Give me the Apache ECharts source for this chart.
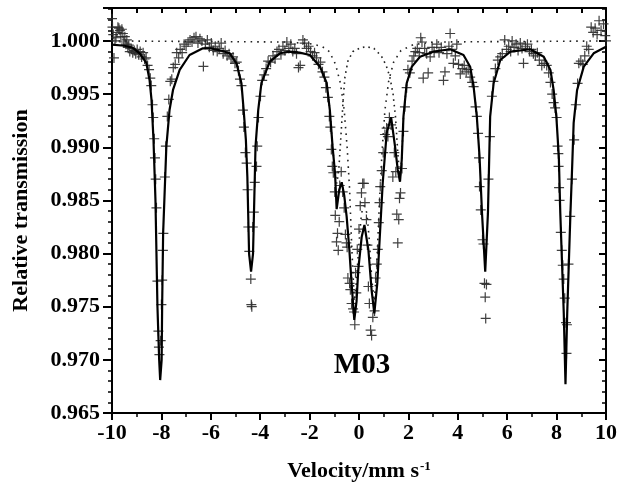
<!DOCTYPE html>
<html>
<head>
<meta charset="utf-8">
<script src="https://cdn.jsdelivr.net/npm/echarts@6/dist/echarts.min.js"></script>
<style>
  html, body { margin: 0; padding: 0; background: #fff; }
  #chart { width: 625px; height: 487px; }
</style>
</head>
<body>
<div id="chart"></div>
<script>
// measured points (velocity mm/s, relative transmission)
var dataVel = [
  -10.00, -9.98, -9.95, -9.92, -9.88, -9.84, -9.80, -9.76, -9.72, -9.68, -9.64, -9.60, -9.56, -9.52, -9.48, -9.44,
  -9.40, -9.36, -9.32, -9.28, -9.22, -9.16, -9.10, -9.04, -8.98, -8.92, -8.86, -8.80, -8.74, -8.68, -8.62, -8.56,
  -8.50, -8.45, -8.41, -8.36, -8.33, -8.29, -8.26, -8.23, -8.20, -8.16, -8.12, -8.10, -8.08, -8.03, -8.00, -7.97,
  -7.94, -7.92, -7.86, -7.82, -7.76, -7.70, -7.64, -7.58, -7.52, -7.44, -7.38, -7.30, -7.24, -7.16, -7.08, -7.00,
  -6.92, -6.84, -6.76, -6.68, -6.60, -6.52, -6.44, -6.36, -6.30, -6.22, -6.14, -6.06, -5.98, -5.90, -5.82, -5.74,
  -5.66, -5.58, -5.50, -5.42, -5.34, -5.26, -5.18, -5.10, -5.02, -4.95, -4.88, -4.82, -4.76, -4.70, -4.66, -4.60,
  -4.55, -4.51, -4.48, -4.44, -4.38, -4.36, -4.34, -4.30, -4.26, -4.22, -4.15, -4.12, -4.07, -3.99, -3.92, -3.84,
  -3.76, -3.68, -3.58, -3.48, -3.40, -3.32, -3.24, -3.16, -3.08, -3.00, -2.92, -2.84, -2.76, -2.68, -2.60, -2.53,
  -2.45, -2.38, -2.27, -2.20, -2.12, -2.04, -1.96, -1.88, -1.80, -1.72, -1.64, -1.56, -1.48, -1.40, -1.34, -1.26,
  -1.20, -1.16, -1.12, -1.08, -1.04, -0.98, -0.96, -0.91, -0.87, -0.84, -0.80, -0.78, -0.72, -0.66, -0.60, -0.55,
  -0.51, -0.48, -0.45, -0.38, -0.35, -0.30, -0.24, -0.20, -0.17, -0.14, -0.11, -0.07, -0.02, 0.00, 0.05, 0.10,
  0.15, 0.20, 0.24, 0.30, 0.34, 0.38, 0.42, 0.47, 0.51, 0.56, 0.63, 0.67, 0.72, 0.76, 0.80, 0.83,
  0.86, 0.92, 0.98, 1.05, 1.12, 1.17, 1.23, 1.30, 1.37, 1.43, 1.49, 1.53, 1.57, 1.61, 1.64, 1.68,
  1.74, 1.80, 1.86, 1.93, 1.98, 2.06, 2.15, 2.22, 2.28, 2.36, 2.44, 2.50, 2.55, 2.60, 2.66, 2.74,
  2.80, 2.88, 2.96, 3.04, 3.15, 3.24, 3.33, 3.42, 3.48, 3.56, 3.64, 3.69, 3.76, 3.82, 3.90, 3.96,
  4.03, 4.10, 4.18, 4.26, 4.34, 4.42, 4.50, 4.58, 4.64, 4.72, 4.77, 4.82, 4.86, 4.88, 4.93, 5.00,
  5.04, 5.08, 5.11, 5.13, 5.16, 5.24, 5.30, 5.38, 5.44, 5.52, 5.62, 5.72, 5.80, 5.90, 5.98, 6.06,
  6.14, 6.20, 6.28, 6.36, 6.44, 6.53, 6.60, 6.66, 6.74, 6.82, 6.90, 6.98, 7.06, 7.14, 7.22, 7.30,
  7.40, 7.50, 7.60, 7.68, 7.75, 7.82, 7.88, 7.94, 8.00, 8.04, 8.07, 8.08, 8.10, 8.12, 8.17, 8.21,
  8.25, 8.29, 8.33, 8.38, 8.40, 8.42, 8.48, 8.55, 8.62, 8.71, 8.78, 8.85, 8.90, 8.98, 9.06, 9.14,
  9.22, 9.30, 9.40, 9.48, 9.56, 9.64, 9.72, 9.80, 9.90, 9.97, 10.00
];
var dataTrans = [
  1.0021, 1.0013, 1.0006, 0.9984, 1.0000, 1.0003, 1.0008, 1.0013, 1.0012, 1.0010, 1.0004, 1.0011, 1.0007, 0.9999, 1.0004, 0.9997,
  1.0001, 0.9994, 0.9996, 0.9990, 0.9993, 0.9989, 0.9991, 0.9988, 0.9992, 0.9987, 0.9990, 0.9985, 0.9989, 0.9983, 0.9984, 0.9977,
  0.9973, 0.9965, 0.9958, 0.9940, 0.9928, 0.9908, 0.9890, 0.9870, 0.9843, 0.9774, 0.9727, 0.9712, 0.9705, 0.9718, 0.9752, 0.9775,
  0.9803, 0.9819, 0.9872, 0.9901, 0.9929, 0.9945, 0.9962, 0.9964, 0.9975, 0.9978, 0.9989, 0.9984, 0.9992, 0.9989, 0.9997, 0.9995,
  0.9999, 1.0001, 0.9999, 1.0003, 1.0004, 0.9998, 1.0002, 1.0000, 0.9976, 0.9997, 1.0001, 0.9994, 0.9998, 0.9991, 0.9995, 0.9990,
  0.9993, 0.9998, 0.9988, 0.9991, 0.9986, 0.9988, 0.9983, 0.9985, 0.9979, 0.9980, 0.9972, 0.9964, 0.9958, 0.9935, 0.9919, 0.9895,
  0.9885, 0.9860, 0.9825, 0.9802, 0.9776, 0.9752, 0.9750, 0.9825, 0.9839, 0.9867, 0.9882, 0.9901, 0.9928, 0.9948, 0.9963, 0.9968,
  0.9974, 0.9981, 0.9980, 0.9986, 0.9983, 0.9990, 0.9992, 0.9987, 0.9995, 0.9991, 0.9999, 0.9993, 0.9997, 0.9990, 0.9993, 0.9988,
  0.9975, 0.9977, 1.0001, 0.9998, 0.9993, 0.9995, 0.9990, 0.9986, 0.9989, 0.9984, 0.9978, 0.9980, 0.9971, 0.9966, 0.9956, 0.9947,
  0.9929, 0.9919, 0.9898, 0.9882, 0.9876, 0.9858, 0.9836, 0.9811, 0.9819, 0.9803, 0.9830, 0.9864, 0.9877, 0.9858, 0.9843, 0.9818,
  0.9810, 0.9806, 0.9777, 0.9772, 0.9766, 0.9753, 0.9748, 0.9745, 0.9733, 0.9782, 0.9763, 0.9804, 0.9788, 0.9823, 0.9845, 0.9857,
  0.9866, 0.9866, 0.9848, 0.9832, 0.9808, 0.9769, 0.9753, 0.9728, 0.9723, 0.9740, 0.9746, 0.9777, 0.9790, 0.9804, 0.9829, 0.9848,
  0.9863, 0.9878, 0.9895, 0.9912, 0.9918, 0.9910, 0.9928, 0.9921, 0.9872, 0.9895, 0.9877, 0.9837, 0.9810, 0.9832, 0.9852, 0.9857,
  0.9880, 0.9915, 0.9938, 0.9956, 0.9973, 0.9970, 0.9981, 0.9986, 0.9990, 0.9993, 0.9989, 1.0003, 0.9999, 0.9965, 0.9993, 0.9988,
  0.9970, 0.9985, 0.9994, 0.9990, 0.9997, 0.9989, 0.9994, 0.9963, 0.9971, 0.9988, 0.9995, 1.0007, 0.9992, 0.9979, 0.9986, 0.9997,
  0.9978, 0.9969, 0.9974, 0.9977, 0.9971, 0.9973, 0.9966, 0.9961, 0.9957, 0.9938, 0.9929, 0.9913, 0.9890, 0.9863, 0.9841, 0.9813,
  0.9809, 0.9772, 0.9759, 0.9739, 0.9771, 0.9870, 0.9910, 0.9948, 0.9962, 0.9974, 0.9982, 0.9985, 0.9988, 1.0001, 0.9992, 0.9995,
  0.9990, 1.0000, 0.9994, 0.9997, 0.9991, 0.9998, 0.9993, 0.9979, 0.9995, 0.9997, 0.9990, 0.9992, 0.9988, 0.9986, 0.9989, 0.9982,
  0.9977, 0.9979, 0.9977, 0.9970, 0.9961, 0.9950, 0.9942, 0.9937, 0.9928, 0.9901, 0.9894, 0.9882, 0.9862, 0.9850, 0.9820, 0.9803,
  0.9789, 0.9776, 0.9758, 0.9735, 0.9706, 0.9733, 0.9790, 0.9835, 0.9870, 0.9907, 0.9940, 0.9960, 0.9979, 0.9981, 0.9978, 0.9986,
  0.9995, 0.9992, 1.0013, 1.0008, 1.0012, 1.0006, 1.0019, 1.0010, 1.0016, 1.0005, 1.0000
];

// total fit (solid line)
var fitVel = [
  -10, -9.5, -9.17, -8.88, -8.61, -8.48, -8.40, -8.32, -8.24, -8.16, -8.09, -8.05, -7.99, -7.97, -7.93, -7.80,
  -7.67, -7.53, -7.26, -6.86, -6.32, -6.05, -5.6, -5.23, -4.96, -4.76, -4.67, -4.58, -4.52, -4.45, -4.37, -4.29,
  -4.19, -4.08, -3.95, -3.61, -3.2, -2.8, -2.4, -1.99, -1.58, -1.31, -1.18, -1.07, -0.97, -0.905, -0.80, -0.70,
  -0.60, -0.50, -0.39, -0.30, -0.19, -0.10, -0.03, 0.11, 0.22, 0.38, 0.51, 0.62, 0.74, 0.85, 0.96, 1.12,
  1.30, 1.46, 1.57, 1.66, 1.73, 1.80, 1.93, 2.14, 2.47, 3.01, 3.69, 4.23, 4.50, 4.64, 4.77, 4.88,
  4.98, 5.11, 5.22, 5.27, 5.31, 5.45, 5.72, 6.13, 6.94, 7.48, 7.75, 7.88, 7.99, 8.09, 8.15, 8.29,
  8.36, 8.43, 8.56, 8.63, 8.69, 8.83, 9.10, 9.5, 10
];
var fitTrans = [
  0.99965, 0.99955, 0.99937, 0.99884, 0.99793, 0.99633, 0.99445, 0.99069, 0.9850, 0.9750, 0.9700, 0.9681, 0.9700, 0.9750, 0.9819, 0.99006,
  0.99351, 0.99539, 0.99727, 0.99868, 0.99931, 0.99931, 0.9991, 0.99884, 0.9979, 0.99602, 0.99351, 0.99069, 0.98723, 0.9800, 0.9783, 0.9800,
  0.99006, 0.9935, 0.99605, 0.99806, 0.99884, 0.99899, 0.9989, 0.99868, 0.99758, 0.99605, 0.9935, 0.99006, 0.98755, 0.98417, 0.9860, 0.98671,
  0.9855, 0.98347, 0.98034, 0.9772, 0.97375, 0.9755, 0.97846, 0.98159, 0.98269, 0.98034, 0.97657, 0.97438, 0.9772, 0.98193, 0.98664, 0.99133,
  0.99282, 0.99006, 0.98787, 0.98676, 0.9888, 0.99288, 0.99602, 0.99758, 0.99852, 0.99899, 0.99922, 0.99868, 0.99758, 0.99571, 0.99288, 0.98912,
  0.98382, 0.9783, 0.9838, 0.9888, 0.99288, 0.99602, 0.99821, 0.99899, 0.99922, 0.99852, 0.99727, 0.99539, 0.99288, 0.98912, 0.98378, 0.97441,
  0.9677, 0.97441, 0.98378, 0.98818, 0.99226, 0.99539, 0.99758, 0.99884, 0.99946
];

// sextet subspectrum, where it leaves the total fit
var sextetVel = [
  -1.58, -1.31, -1.18, -1.07, -0.97, -0.90, -0.82, -0.72, -0.64, -0.57, -0.45, -0.25, 0.05, 0.30, 0.60, 0.90,
  1.10, 1.25, 1.38, 1.48, 1.57, 1.66, 1.73, 1.80, 1.93, 2.14
];
var sextetTrans = [
  0.99758, 0.99605, 0.9935, 0.99006, 0.98755, 0.9866, 0.9878, 0.9915, 0.9945, 0.9966, 0.9981, 0.9990, 0.99935, 0.99946, 0.9993, 0.9986,
  0.9977, 0.9966, 0.9950, 0.9928, 0.9895, 0.9870, 0.9889, 0.99288, 0.99602, 0.99758
];

// doublet subspectrum
var doubletVel = [
  -10, -3, -2, -1.5, -1.2, -0.95, -0.75, -0.6, -0.48, -0.38, -0.30, -0.19, -0.10, 0.0, 0.1, 0.21,
  0.32, 0.42, 0.52, 0.62, 0.72, 0.82, 0.93, 1.05, 1.2, 1.4, 1.7, 2.2, 3, 10
];
var doubletTrans = [
  1.0, 0.9999, 0.99975, 0.9995, 0.9990, 0.9978, 0.9960, 0.9935, 0.9900, 0.9860, 0.9810, 0.9755, 0.9775, 0.9810, 0.9838, 0.9845,
  0.9838, 0.9812, 0.9775, 0.9755, 0.9790, 0.9845, 0.9895, 0.9935, 0.9962, 0.9980, 0.9991, 0.99965, 0.9999, 1.0
];

function pairs(xs, ys) {
  return xs.map(function (x, i) { return [x, ys[i]]; });
}

var serif = '"Liberation Serif", "Times New Roman", serif';
var plusSymbol = 'path://M-0.6,-5 L0.6,-5 L0.6,-0.6 L5,-0.6 L5,0.6 L0.6,0.6 L0.6,5 L-0.6,5 L-0.6,0.6 L-5,0.6 L-5,-0.6 L-0.6,-0.6 Z';

var myChart = echarts.init(document.getElementById('chart'));
var option = {
  animation: false,
  backgroundColor: '#fff',
  grid: { left: 112, right: 19, top: 8, bottom: 74 },
  xAxis: [
    {
      type: 'value',
      position: 'bottom',
      min: -10,
      max: 10,
      interval: 2,
      name: '{a|Velocity/mm s}{b|-1}',
      nameLocation: 'middle',
      nameGap: 47,
      nameTextStyle: {
        rich: {
          a: { fontFamily: serif, fontWeight: 'bold', fontSize: 22, color: '#000' },
          b: { fontFamily: serif, fontWeight: 'bold', fontSize: 13, color: '#000', padding: [0, 0, 9, 1] }
        }
      },
      axisLine: { onZero: false, lineStyle: { color: '#000', width: 2 } },
      axisTick: { inside: false, length: 7, lineStyle: { color: '#000', width: 2 } },
      minorTick: { show: true, splitNumber: 2, length: 4, lineStyle: { color: '#000', width: 1.5 } },
      axisLabel: { fontFamily: serif, fontWeight: 'bold', fontSize: 22, color: '#000', margin: 9 },
      splitLine: { show: false }
    },
    {
      type: 'value',
      position: 'top',
      min: -10,
      max: 10,
      interval: 1,
      axisLine: { onZero: false, lineStyle: { color: '#000', width: 2 } },
      axisTick: { inside: true, length: 5, lineStyle: { color: '#000', width: 2 } },
      axisLabel: { show: false },
      splitLine: { show: false }
    }
  ],
  yAxis: [
    {
      type: 'value',
      position: 'left',
      min: 0.965,
      max: 1.0031,
      interval: 0.005,
      name: 'Relative transmission',
      nameLocation: 'middle',
      nameGap: 80,
      nameTextStyle: { fontFamily: serif, fontWeight: 'bold', fontSize: 22, color: '#000' },
      axisLine: { onZero: false, lineStyle: { color: '#000', width: 2 } },
      axisTick: { inside: false, length: 9, lineStyle: { color: '#000', width: 2 } },
      minorTick: { show: true, splitNumber: 5, length: 4, lineStyle: { color: '#000', width: 1.5 } },
      axisLabel: {
        fontFamily: serif, fontWeight: 'bold', fontSize: 22, color: '#000', margin: 12,
        showMaxLabel: false,
        formatter: function (v) { return v.toFixed(3); }
      },
      splitLine: { show: false }
    },
    {
      type: 'value',
      position: 'right',
      min: 0.965,
      max: 1.0031,
      interval: 0.005,
      axisLine: { onZero: false, lineStyle: { color: '#000', width: 2 } },
      axisTick: { inside: true, length: 7, lineStyle: { color: '#000', width: 2 } },
      minorTick: { show: true, splitNumber: 5, length: 4, lineStyle: { color: '#000', width: 1.5 } },
      axisLabel: { show: false },
      splitLine: { show: false }
    }
  ],
  graphic: [
    {
      type: 'text',
      z: 100,
      style: {
        text: 'M03',
        x: 362,
        y: 366,
        align: 'center',
        verticalAlign: 'middle',
        font: 'bold 29px ' + serif,
        fill: '#000'
      }
    }
  ],
  series: [
    {
      name: 'data',
      type: 'scatter',
      symbol: plusSymbol,
      symbolSize: 10,
      itemStyle: { color: '#2b2b2b', opacity: 0.9 },
      z: 2,
      data: pairs(dataVel, dataTrans)
    },
    {
      name: 'doublet',
      type: 'line',
      showSymbol: false,
      lineStyle: { color: '#222', width: 1.6, type: [1.6, 5] },
      z: 3,
      data: pairs(doubletVel, doubletTrans)
    },
    {
      name: 'sextet',
      type: 'line',
      showSymbol: false,
      lineStyle: { color: '#222', width: 1.6, type: [1.6, 4] },
      z: 3,
      data: pairs(sextetVel, sextetTrans)
    },
    {
      name: 'fit',
      type: 'line',
      showSymbol: false,
      lineStyle: { color: '#000', width: 2.2 },
      z: 4,
      data: pairs(fitVel, fitTrans)
    }
  ]
};
myChart.setOption(option);
</script>
</body>
</html>
